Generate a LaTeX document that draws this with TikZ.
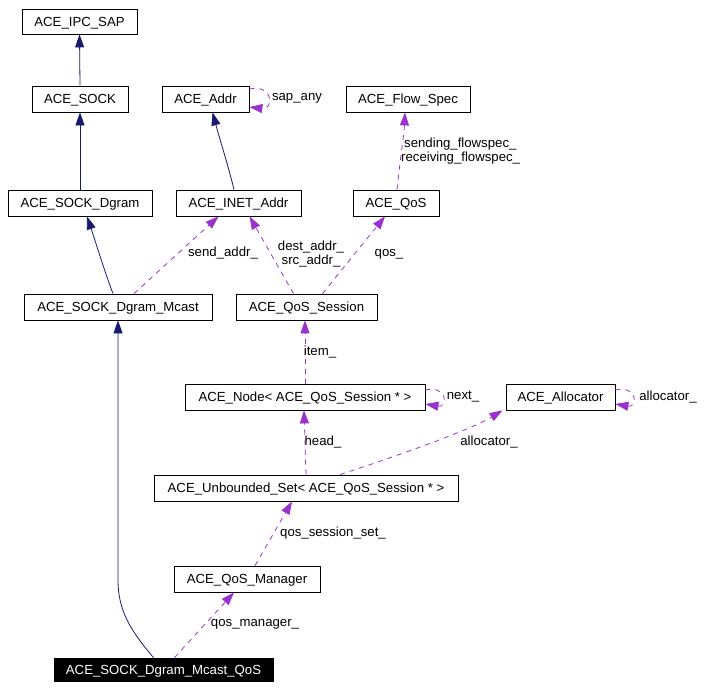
\documentclass[tikz,border=0pt]{standalone}
\usepackage{fontspec}
\setmainfont{Liberation Sans}
\usetikzlibrary{arrows.meta}
\definecolor{inhcol}{HTML}{191970}
\definecolor{usecol}{HTML}{9A32CD}
\begin{document}
\begin{tikzpicture}[x=1pt,y=-1pt,
  font=\fontsize{13.2}{14.5}\selectfont,
  cls/.style={draw=black,line width=0.8pt,minimum height=26pt,inner sep=0pt,fill=white,text height=9.4pt,text depth=0pt},
  inh/.style={draw=inhcol,line width=0.8pt,-{Triangle[length=13pt,width=9pt,fill=inhcol]}},
  use/.style={draw=usecol,line width=0.8pt,dash pattern=on 5pt off 5pt,-{Triangle[length=13pt,width=9pt,fill=usecol]}},
  lbl/.style={inner sep=0pt,anchor=center}]
\useasboundingbox (0,0) rectangle (706,690);
% classes
\node[cls,minimum width=115pt,minimum height=25pt] (ipc) at (79.5,21.5) {ACE\_IPC\_SAP};
\node[cls,minimum width=96pt] (sock) at (80,99) {ACE\_SOCK};
\node[cls,minimum width=87pt] (addr) at (205.5,99) {ACE\_Addr};
\node[cls,minimum width=124pt] (flow) at (408,99) {ACE\_Flow\_Spec};
\node[cls,minimum width=144pt] (dgram) at (80,203) {ACE\_SOCK\_Dgram};
\node[cls,minimum width=125pt] (inet) at (238.5,203) {ACE\_INET\_Addr};
\node[cls,minimum width=86pt] (qos) at (396,203) {ACE\_QoS};
\node[cls,minimum width=188pt] (mcast) at (118,307) {ACE\_SOCK\_Dgram\_Mcast};
\node[cls,minimum width=141pt] (session) at (306.5,307) {ACE\_QoS\_Session};
\node[cls,minimum width=240pt] (qnode) at (305,397) {ACE\_Node< ACE\_QoS\_Session * >};
\node[cls,minimum width=109pt] (alloc) at (560.5,397) {ACE\_Allocator};
\node[cls,minimum width=304pt] (uset) at (306,488) {ACE\_Unbounded\_Set< ACE\_QoS\_Session * >};
\node[cls,minimum width=146pt] (mgr) at (247,579) {ACE\_QoS\_Manager};
\node[cls,fill=black,text=white,minimum width=219pt,minimum height=23pt] (main) at (163.5,669.5) {ACE\_SOCK\_Dgram\_Mcast\_QoS};
% inheritance
\draw[inh] (sock.north) -- (ipc.south);
\draw[inh] (dgram.north) -- (sock.south);
\draw[inh] ([xshift=-4.5pt]inet.north) .. controls (228,165) and (220,140) .. ([xshift=7pt]addr.south);
\draw[inh] ([xshift=-5pt]mcast.north) .. controls (104,270) and (95,240) .. ([xshift=7pt]dgram.south);
\draw[inh] ([xshift=-10pt]main.north) .. controls (130,630) and (118,610) .. (118,580) -- (mcast.south);
% usage
\draw[use] ([yshift=10pt]addr.east) .. controls (274,84) and (274,110) .. ([yshift=-8pt]addr.east);
\node[lbl] (lsap) at (297,98) {sap\_any};
\draw[use] ([xshift=1pt]qos.north) .. controls (400,160) and (404,135) .. ([xshift=-3pt]flow.south);
\node[lbl,anchor=west] (lsend) at (404,144) {sending\_flowspec\_};
\node[lbl,anchor=west] (lrecv) at (401,158) {receiving\_flowspec\_};
\draw[use] ([xshift=16pt]mcast.north) -- ([xshift=-20pt]inet.south);
\node[lbl] (lsendaddr) at (223,253) {send\_addr\_};
\draw[use] ([xshift=-13pt]session.north) -- ([xshift=11pt]inet.south);
\node[lbl] (ldest) at (311,247) {dest\_addr\_};
\node[lbl] (lsrc) at (311,261) {src\_addr\_};
\draw[use] ([xshift=16pt]session.north) -- ([xshift=-11pt]qos.south);
\node[lbl] (lqos) at (389,254) {qos\_};
\draw[use] (qnode.north) -- ([xshift=-1.5pt]session.south);
\node[lbl] (litem) at (320,352) {item\_};
\draw[use] ([yshift=7pt]qnode.east) .. controls (448,385) and (448,408) .. ([yshift=-7pt]qnode.east);
\node[lbl] (lnext) at (463,397) {next\_};
\draw[use] ([yshift=7pt]alloc.east) .. controls (638,385) and (638,408) .. ([yshift=-7pt]alloc.east);
\node[lbl] (lalloc1) at (668,397) {allocator\_};
\draw[use] (uset.north) -- ([xshift=-1pt]qnode.south);
\node[lbl] (lhead) at (323,442) {head\_};
\draw[use] ([xshift=34pt]uset.north) .. controls (400,455) and (470,430) .. ([xshift=-58pt]alloc.south);
\node[lbl] (lalloc2) at (489,442) {allocator\_};
\draw[use] ([xshift=8pt]mgr.north) -- ([xshift=-14pt]uset.south);
\node[lbl] (lqss) at (333,533) {qos\_session\_set\_};
\draw[use] ([xshift=11pt]main.north) -- ([xshift=-13pt]mgr.south);
\node[lbl] (lmgr) at (255,624) {qos\_manager\_};
\end{tikzpicture}
\end{document}
